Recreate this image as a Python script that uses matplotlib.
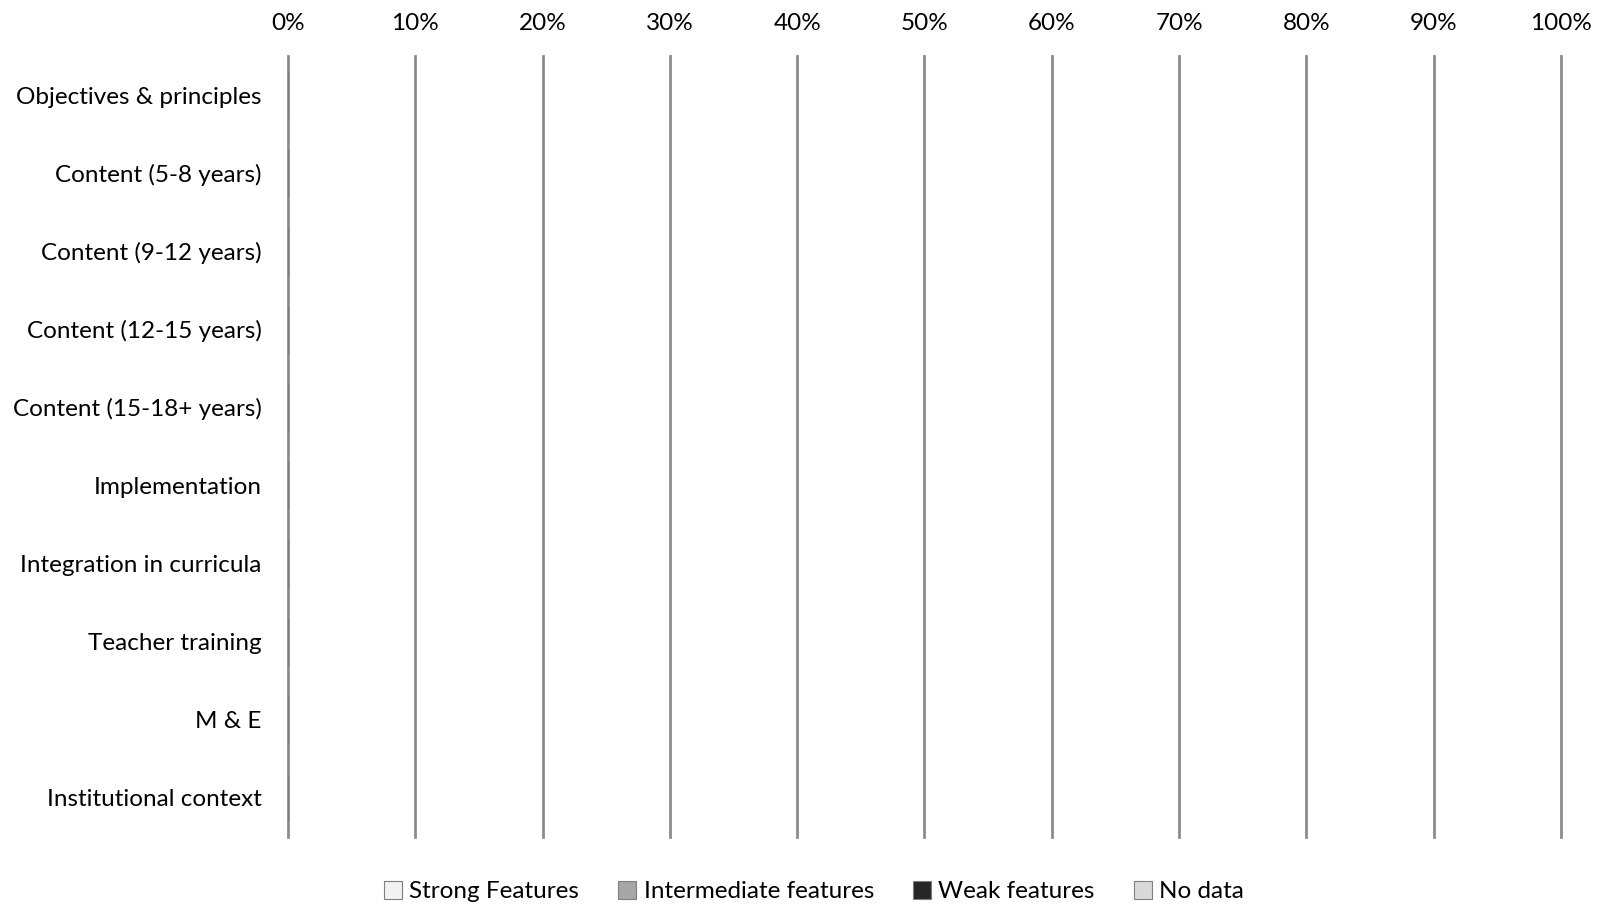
import numpy as np
import matplotlib.pyplot as plt
from matplotlib.ticker import PercentFormatter

# categories, top to bottom
categories = ['Objectives & principles', 'Content (5-8 years)', 'Content (9-12 years)',
              'Content (12-15 years)', 'Content (15-18+ years)', 'Implementation',
              'Integration in curricula', 'Teacher training', 'M & E',
              'Institutional context']

# share of each feature level per category (nothing scored)
strong       = [0, 0, 0, 0, 0, 0, 0, 0, 0, 0]
intermediate = [0, 0, 0, 0, 0, 0, 0, 0, 0, 0]
weak         = [0, 0, 0, 0, 0, 0, 0, 0, 0, 0]
no_data      = [0, 0, 0, 0, 0, 0, 0, 0, 0, 0]

series = [('Strong Features', strong, '#f2f2f2'),
          ('Intermediate features', intermediate, '#a6a6a6'),
          ('Weak features', weak, '#262626'),
          ('No data', no_data, '#d9d9d9')]

plt.rcParams['font.family'] = ['Lato', 'DejaVu Sans']

fig = plt.figure(figsize=(15.99, 9.06), dpi=100)
ax = fig.add_axes([288/1599, 1 - 837/906, (1561-288)/1599, (837-56)/906])

y = np.arange(len(categories))
left = np.zeros(len(categories))
for name, vals, col in series:
    vals = np.array(vals, dtype=float)
    ax.barh(y, vals, left=left, height=0.6, color=col, edgecolor='#7f7f7f',
            linewidth=0.8, label=name)
    left += vals

ax.set_xlim(0, 1)
ax.set_ylim(len(categories) - 0.5, -0.5)
ax.set_xticks(np.arange(0, 1.01, 0.1))
ax.xaxis.set_major_formatter(PercentFormatter(1.0, decimals=0))
ax.xaxis.tick_top()
ax.set_yticks(y)
ax.set_yticklabels(categories)
ax.tick_params(axis='both', length=0, labelsize=17.5, colors='black')
ax.tick_params(axis='x', pad=16)
ax.tick_params(axis='y', pad=19)
for s in ax.spines.values():
    s.set_visible(False)
ax.grid(axis='x', color='#8c8c8c', linewidth=2)
for gl in ax.get_xgridlines():
    gl.set_clip_on(False)
ax.set_axisbelow(True)

leg = ax.legend(loc='center', bbox_to_anchor=(0.509, 0.016), bbox_transform=fig.transFigure,
                ncol=4, frameon=False, fontsize=17.5, handlelength=0.75, handleheight=0.75,
                handletextpad=0.3, columnspacing=1.6, borderaxespad=0, borderpad=0)

plt.savefig('out.png', dpi=100)
